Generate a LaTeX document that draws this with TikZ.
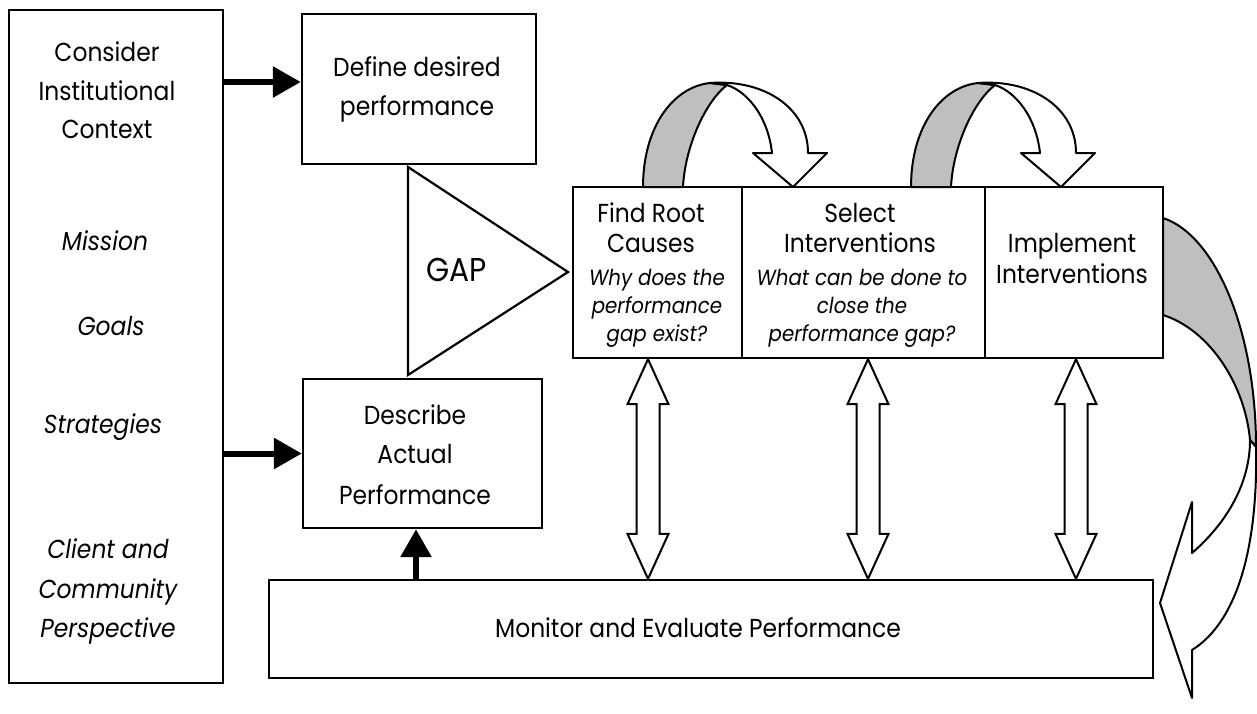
\documentclass[tikz,border=0pt]{standalone}
\usepackage{fontspec}
\setmainfont{Poppins}[FakeStretch=0.9]
\usetikzlibrary{arrows.meta,calc}

\newcommand\hollowdbl[2]{% double-headed hollow arrow from #1 (top) to #2 (bottom)
  \draw[hollow] (#1) -- ++(20.5,45) -- ++(-9,0) -- ($(#2)+(11.5,-45)$) -- ++(9,0)
    -- (#2) -- ++(-20.5,-45) -- ++(9,0) -- ($(#1)+(-11.5,45)$) -- ++(-9,0) -- cycle;}

\tikzset{
  box/.style={draw, line width=2.4pt, inner sep=0pt},
  fat/.style={line width=6pt, -{Triangle[length=28pt,width=30pt]}},
  hollow/.style={draw, fill=white, line width=2pt, line join=miter},
  ribbon/.style={draw, line width=2pt, line join=round},
  shade/.style={fill=black!25},
  txt/.style={anchor=base, inner sep=0pt, font=\fontsize{26}{30}\selectfont},
  itx/.style={anchor=base, inner sep=0pt, font=\fontsize{26}{30}\selectfont\itshape},
  qtx/.style={anchor=base, inner sep=0pt, font=\fontsize{22}{26}\selectfont\itshape},
  turnarrow/.pic={
    \filldraw[ribbon, shade] (0,0) .. controls (0,-60) and (30,-100) .. (67,-104)
      -- (84,-102) .. controls (62,-85) and (42,-40) .. (40,0) -- cycle;
    \filldraw[ribbon, fill=white] (67,-104) .. controls (120,-108) and (165,-80) .. (165,-34)
      -- (184,-34) -- (150,0) -- (110,-34) -- (129,-34)
      .. controls (125,-70) and (105,-95) .. (84,-102) -- cycle;
  }
}

\begin{document}
\begin{tikzpicture}[x=1pt, y=-1pt]
\useasboundingbox (0,0) rectangle (1257,713);
\fill[white] (0,0) rectangle (1257,713);

% loop arrows over the process boxes
\pic at (643,187) {turnarrow};
\pic at (911,187) {turnarrow};

% large return arrow on the right
\filldraw[ribbon, shade] (1163,218) .. controls (1215,235) and (1256,330) .. (1256,447)
  -- (1250,440) .. controls (1245,385) and (1210,330) .. (1163,315) -- cycle;
\filldraw[ribbon, fill=white] (1256,447) .. controls (1258,540) and (1240,620) .. (1192,650)
  -- (1192,698) -- (1160,603) -- (1192,502) -- (1192,553)
  .. controls (1230,520) and (1250,480) .. (1250,440) -- cycle;

% boxes
\node[box, minimum width=214pt, minimum height=673pt] (ctx) at (116,346.5) {};
\node[box, minimum width=234pt, minimum height=150pt] (define) at (419,89) {};
\node[box, minimum width=239pt, minimum height=149pt] (describe) at (422.5,453.5) {};
\node[box, minimum width=884pt, minimum height=98pt] (monitor) at (711,629) {};
\node[box, minimum width=169pt, minimum height=171pt] (root) at (657.5,272.5) {};
\node[box, minimum width=243pt, minimum height=171pt] (select) at (863.5,272.5) {};
\node[box, minimum width=178pt, minimum height=171pt] (impl) at (1074,272.5) {};

% gap triangle
\draw[line width=2.2pt, line join=miter] (408,167) -- (568,272) -- (408,375) -- cycle;
\node[anchor=base, inner sep=0pt, font=\fontsize{33}{36}\selectfont] (gap) at (457,281) {GAP};

% solid connectors
\coordinate (ctxA) at (ctx.east |- 0,82);
\draw[fat] (ctxA) -- (ctxA -| define.west);
\draw[fat] (ctx.east |- describe.west) -- (describe.west);
\coordinate (monA) at (monitor.north -| 416,0);
\draw[fat] (monA) -- (monA |- describe.south);

% hollow two-way connectors
\coordinate (r1) at (root.south -| 648,0);   \coordinate (m1) at (monitor.north -| 648,0);
\coordinate (r2) at (select.south -| 868,0); \coordinate (m2) at (monitor.north -| 868,0);
\coordinate (r3) at (impl.south -| 1076,0);  \coordinate (m3) at (monitor.north -| 1076,0);
\hollowdbl{r1}{m1}
\hollowdbl{r2}{m2}
\hollowdbl{r3}{m3}

% texts
\node[txt] (c1) at (107,61) {Consider};
\node[txt] (c2) at (107,100) {Institutional};
\node[txt] (c3) at (107,138) {Context};
\node[itx] (c4) at (105,250) {Mission};
\node[itx] (c5) at (111,335) {Goals};
\node[itx] (c6) at (103,433) {Strategies};
\node[itx] (c7) at (108,558) {Client and};
\node[itx] (c8) at (108,598) {Community};
\node[itx] (c9) at (108,637) {Perspective};

\node[txt] (d1) at (417,76) {Define desired};
\node[txt] (d2) at (417,115) {performance};

\node[txt] (a1) at (415,424) {Describe};
\node[txt] (a2) at (415,463) {Actual};
\node[txt] (a3) at (415,504) {Performance};

\node[txt] (mo) at (698,637) {Monitor and Evaluate Performance};

\node[txt] (f1) at (651,222) {Find Root};
\node[txt] (f2) at (651,252) {Causes};
\node[qtx] (f3) at (657,285) {Why does the};
\node[qtx] (f4) at (657,313) {performance};
\node[qtx] (f5) at (657,341) {gap exist?};

\node[txt] (s1) at (860,222) {Select};
\node[txt] (s2) at (860,252) {Interventions};
\node[qtx] (s3) at (862,285) {What can be done to};
\node[qtx] (s4) at (862,313) {close the};
\node[qtx] (s5) at (862,341) {performance gap?};

\node[txt] (i1) at (1072,252) {Implement};
\node[txt] (i2) at (1072,283) {Interventions};
\end{tikzpicture}
\end{document}
